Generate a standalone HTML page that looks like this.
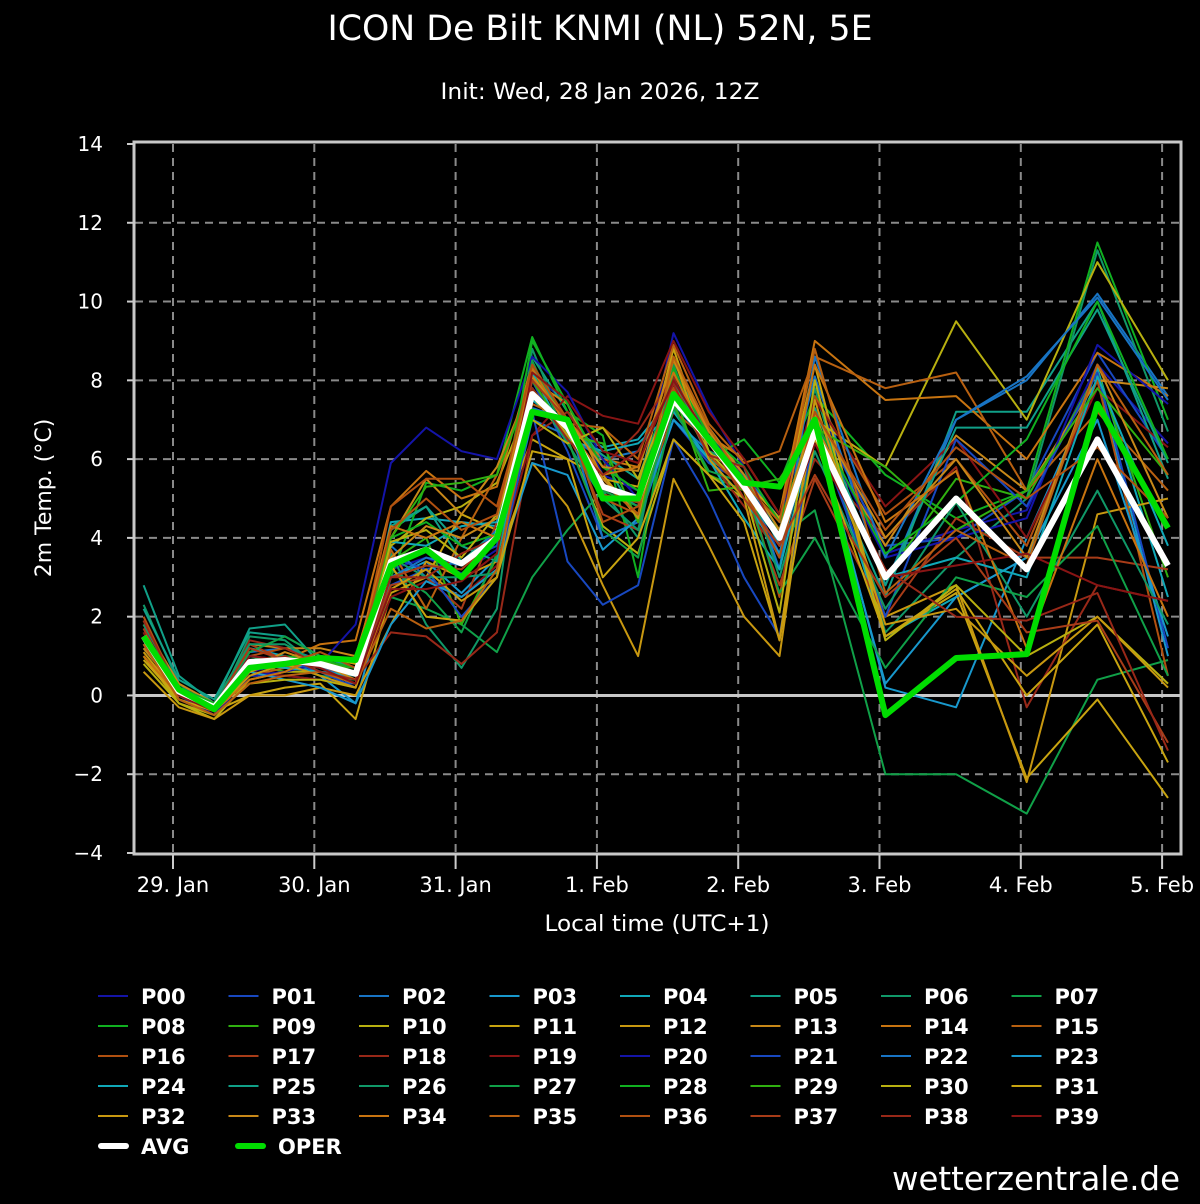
<!DOCTYPE html>
<html><head><meta charset="utf-8"><style>
body{margin:0;background:#000;width:1200px;height:1200px;overflow:hidden;font-family:"DejaVu Sans","Liberation Sans",sans-serif;}
svg text{fill:#fff;font-family:"DejaVu Sans","Liberation Sans",sans-serif;}
</style></head><body>
<svg id="chart" width="1200" height="1200" xmlns="http://www.w3.org/2000/svg">
<rect x="0" y="0" width="1200" height="1200" fill="#000"/>
<text x="600" y="40" font-size="34.5" text-anchor="middle" textLength="545" lengthAdjust="spacingAndGlyphs">ICON De Bilt KNMI (NL) 52N, 5E</text>
<text x="600" y="99" font-size="22" text-anchor="middle" textLength="319" lengthAdjust="spacingAndGlyphs">Init: Wed, 28 Jan 2026, 12Z</text>
<text transform="translate(51,498) rotate(-90)" font-size="22" text-anchor="middle">2m Temp. (°C)</text>
<text x="657" y="931" font-size="22" text-anchor="middle" textLength="225" lengthAdjust="spacingAndGlyphs">Local time (UTC+1)</text>
<text x="1180" y="1190" font-size="33" text-anchor="end" textLength="288" lengthAdjust="spacingAndGlyphs">wetterzentrale.de</text>
<g id="grid"></g>
<g id="series"></g>
<g id="axes"></g>
<g id="legend"></g>
</svg>
<script>
const yTicks=[-4,-2,0,2,4,6,8,10,12,14];
const xTickLabels=['29. Jan','30. Jan','31. Jan','1. Feb','2. Feb','3. Feb','4. Feb','5. Feb'];
const hours=[0,6,12,18,24,30,36,42,48,54,60,66,72,78,84,90,96,102,108,114,126,138,150,162,174];
const avg=[1.5,0.1,-0.3,0.85,0.9,0.8,0.55,3.4,3.7,3.35,4.0,7.65,6.8,5.3,5.0,7.5,6.5,5.3,4.0,6.7,3.0,5.0,3.2,6.5,3.3];
const oper=[1.5,0.15,-0.35,0.7,0.8,0.95,0.9,3.3,3.7,3.0,4.0,7.2,7.0,5.0,5.0,7.65,6.5,5.4,5.3,7.0,-0.5,0.95,1.05,7.4,4.25];
const members=[
[1.6,0.0,-0.4,0.6,0.8,0.6,0.4,3.2,3.5,3.1,3.7,8.2,7.4,5.6,5.2,9.2,7.3,5.8,4.4,7.6,3.6,4.2,4.7,8.4,6.4],
[1.4,-0.1,-0.5,0.5,0.5,0.4,0.3,2.8,3.2,3.4,3.8,8.0,6.2,4.0,4.4,7.0,5.9,5.4,3.6,7.2,3.8,4.0,5.2,8.7,6.0],
[1.3,0.0,-0.3,1.1,1.2,0.9,0.6,3.8,3.0,2.5,3.2,7.0,6.6,6.0,6.2,7.8,6.8,5.6,4.5,8.1,2.8,7.0,8.0,10.2,7.6],
[1.2,0.1,-0.3,0.9,0.9,0.5,-0.2,3.0,3.4,2.6,3.5,7.2,6.9,5.3,4.8,7.4,6.4,5.2,3.5,7.0,0.2,-0.3,4.0,8.0,1.0],
[1.5,0.2,-0.2,1.2,1.0,0.6,0.3,4.4,4.5,4.4,4.3,7.5,6.8,6.3,6.5,7.6,6.6,5.6,3.8,7.2,1.5,2.5,3.5,8.3,2.5],
[2.8,0.5,-0.2,1.7,1.8,0.8,0.6,4.2,4.8,3.4,4.2,8.6,7.2,6.0,4.5,8.0,6.0,5.4,4.0,6.6,2.5,7.2,7.2,10.0,5.5],
[2.3,0.3,-0.4,1.5,1.4,0.7,0.5,3.6,1.8,0.7,2.2,8.8,6.6,5.2,4.0,8.2,6.8,5.5,3.2,7.8,1.6,3.5,5.0,11.3,6.7],
[1.9,0.0,-0.5,1.0,0.8,0.5,0.4,2.5,2.2,1.8,1.1,3.0,4.2,5.2,4.8,8.4,6.0,5.0,4.0,4.7,-2.0,-2.0,-3.0,0.4,0.9],
[1.5,0.1,-0.3,0.7,0.9,0.7,0.5,3.0,5.4,5.2,5.6,9.1,7.2,6.6,3.0,8.3,6.0,6.5,5.4,7.6,5.6,4.5,5.2,11.5,7.0],
[1.3,0.2,-0.3,0.8,0.6,0.8,0.7,3.4,4.0,1.8,3.5,8.2,7.0,5.8,5.2,7.4,5.6,5.2,4.5,6.5,3.0,5.5,5.0,8.2,3.0],
[1.0,-0.2,-0.6,0.4,0.6,0.6,0.3,3.8,4.5,4.8,5.4,7.6,6.5,4.3,3.6,6.5,5.6,5.0,4.2,7.0,5.8,9.5,7.0,11.0,8.0],
[0.9,-0.1,-0.4,0.0,0.2,0.3,-0.6,2.6,3.0,4.6,4.2,6.5,6.0,5.5,5.3,8.8,6.2,5.5,4.5,8.4,1.5,2.6,-2.1,-0.1,-2.6],
[0.6,-0.3,-0.6,0.0,0.0,0.2,0.0,1.8,3.4,3.0,3.4,5.9,4.8,2.8,1.0,5.5,3.8,2.0,1.0,7.2,2.0,2.8,-2.2,4.6,5.0],
[1.8,0.3,-0.2,1.3,1.2,1.2,1.0,4.0,5.5,4.6,5.8,8.0,7.4,5.5,4.6,7.8,6.8,5.6,4.0,6.8,3.8,6.6,5.2,8.0,7.8],
[1.3,0.2,-0.3,0.8,0.9,1.3,1.4,4.8,5.7,5.0,5.3,8.4,7.0,6.0,5.8,8.5,6.6,6.0,4.6,9.0,7.5,7.6,6.0,8.7,7.6],
[1.5,0.0,-0.4,0.5,0.7,0.9,0.7,3.7,2.2,4.0,5.6,8.1,6.9,6.8,6.0,8.9,6.9,5.9,6.2,8.6,7.8,8.2,5.2,7.2,5.2],
[2.0,0.1,-0.3,1.0,1.2,0.8,0.6,4.8,5.5,5.5,4.8,8.0,6.6,5.0,4.6,7.2,6.5,5.6,2.5,7.6,4.6,6.0,3.8,8.0,0.5],
[1.8,0.2,-0.4,1.3,0.9,0.7,0.5,2.8,3.0,2.2,4.4,8.3,6.8,4.6,4.2,8.0,6.4,5.2,2.8,5.5,2.0,4.5,3.5,3.5,3.2],
[1.7,0.0,-0.5,1.4,1.2,0.8,0.4,1.6,1.5,0.8,1.6,6.6,7.2,5.8,6.7,8.1,6.0,4.8,3.6,6.0,4.0,5.8,-0.3,2.8,2.4],
[1.6,-0.1,-0.4,0.6,0.5,0.4,0.2,2.5,2.9,2.5,3.3,6.6,7.6,7.1,6.9,9.0,7.2,6.0,4.6,7.5,4.8,6.5,4.0,7.8,6.3],
[1.7,0.0,-0.5,0.5,0.6,0.8,1.8,5.9,6.8,6.2,6.0,8.6,7.7,6.0,5.0,8.0,6.6,5.6,4.0,7.0,3.5,4.0,4.5,8.9,7.4],
[1.4,0.2,-0.2,1.0,0.9,0.6,0.2,3.5,3.2,2.0,3.0,7.2,3.4,2.3,2.8,6.5,5.0,3.0,1.5,6.8,2.0,6.5,4.8,8.2,1.2],
[1.5,0.0,-0.3,0.9,1.0,0.7,0.4,3.0,3.5,3.3,4.2,7.3,7.0,4.0,4.4,7.0,6.2,5.8,3.2,8.6,3.5,7.0,8.1,10.1,7.5],
[1.4,0.1,-0.4,0.6,0.4,0.2,-0.2,1.8,2.9,2.5,3.2,5.9,5.6,3.7,4.5,7.0,6.0,5.0,3.6,6.8,0.3,2.5,3.5,7.0,1.5],
[1.3,0.0,-0.3,0.8,0.7,0.6,0.5,3.9,3.8,4.3,4.4,8.2,6.5,6.2,6.4,7.2,6.0,4.5,3.2,6.8,3.0,3.5,3.0,8.1,3.8],
[2.2,0.4,-0.1,1.6,1.5,1.0,0.7,4.3,4.8,3.8,3.4,8.4,6.8,6.1,5.5,8.0,6.4,5.5,4.2,7.3,2.8,6.8,6.8,9.8,5.9],
[1.8,0.2,-0.2,1.3,1.3,0.8,0.6,3.5,3.0,3.0,3.1,7.8,6.4,5.0,4.2,7.6,6.2,5.8,3.0,6.2,2.2,4.9,2.0,5.2,1.8],
[1.6,0.1,-0.3,1.1,1.5,1.0,0.5,3.2,2.6,1.6,3.6,8.5,6.5,4.2,3.5,7.3,5.7,5.4,2.6,4.0,0.7,3.0,2.5,4.3,0.5],
[1.5,0.2,-0.2,0.9,1.0,0.9,0.7,4.0,4.4,3.8,4.1,9.0,7.4,5.8,5.2,8.2,6.6,5.8,4.4,7.0,3.6,4.9,6.5,10.0,6.0],
[1.4,0.0,-0.3,0.7,0.8,0.9,0.6,4.0,5.3,5.4,5.6,8.0,6.6,6.4,4.4,7.7,5.2,5.3,5.5,6.8,5.8,4.2,5.2,7.8,5.6],
[0.8,-0.2,-0.5,0.3,0.4,0.4,0.2,3.9,4.2,3.5,4.6,7.0,6.4,6.8,5.5,7.8,6.2,5.2,2.1,8.0,1.4,2.8,1.0,2.0,0.3],
[1.0,-0.1,-0.4,0.6,0.9,1.0,0.8,3.3,2.0,1.9,3.0,6.2,6.0,3.0,4.0,6.5,5.6,4.4,1.4,6.5,1.5,2.7,0.0,1.8,-1.7],
[1.1,0.0,-0.4,0.5,0.8,0.5,0.2,2.7,3.2,2.4,3.0,7.8,6.6,5.6,4.5,8.6,6.0,5.0,1.4,7.5,1.8,2.2,0.5,2.0,0.2],
[1.2,0.1,-0.3,0.7,1.1,0.8,0.4,3.5,4.3,4.0,4.5,8.1,7.0,5.8,5.7,8.6,6.7,5.6,4.2,7.2,4.0,6.0,3.5,8.4,4.5],
[1.0,0.0,-0.4,0.4,0.6,1.0,0.9,4.3,4.0,4.4,4.0,8.3,6.8,5.6,5.8,8.2,6.4,5.4,4.0,8.4,4.4,5.7,1.2,6.0,2.0],
[1.3,-0.1,-0.5,0.3,0.5,0.6,0.3,2.2,1.7,1.9,3.2,7.4,7.0,5.4,4.6,8.6,6.8,5.4,4.4,8.8,2.6,4.2,3.3,8.4,5.6],
[1.9,0.1,-0.4,0.9,0.8,1.1,0.7,4.2,5.0,4.2,4.6,8.4,7.0,4.4,4.8,7.8,6.1,5.2,3.5,7.2,4.2,6.3,5.0,6.3,4.5],
[1.7,0.0,-0.3,1.2,0.9,0.8,0.5,3.0,3.3,3.2,4.0,8.0,7.0,5.1,4.9,8.0,6.5,5.0,3.8,5.6,2.5,4.0,1.6,1.9,-1.2],
[1.9,0.1,-0.4,0.8,1.0,0.6,0.4,3.0,3.0,3.6,4.0,7.8,6.5,5.6,6.2,7.9,6.1,5.8,3.9,6.6,3.2,2.0,1.9,2.6,-1.4],
[1.6,0.0,-0.4,1.0,0.9,0.7,0.3,2.7,2.7,2.9,3.6,8.2,7.5,6.2,5.9,8.0,6.5,5.3,4.0,6.4,3.0,3.3,3.6,2.8,2.4]
];
const palette=['#1414a8','#1848c0','#1874c4','#1898cc','#10a8b8','#10a088','#109868','#10a048','#10b020','#30b010','#b8b010','#c8a410','#c89810','#c88818','#c87410','#b86010','#b05010','#a83c18','#982818','#881414'];

const NS='http://www.w3.org/2000/svg';
const L=135,R=1180,T=144,B=853,VMIN=-4,VMAX=14;
const DAY=141.3, X29=173;
function xOfHour(h){return X29-29.4+h*DAY/24;}
function yOf(v){return T+(VMAX-v)*(B-T)/(VMAX-VMIN);}
function mk(tag,attrs,parent){const e=document.createElementNS(NS,tag);for(const k in attrs)e.setAttribute(k,attrs[k]);parent.appendChild(e);return e;}
const grid=document.getElementById('grid'),axes=document.getElementById('axes'),series=document.getElementById('series'),legend=document.getElementById('legend');

yTicks.forEach(v=>{
  const y=yOf(v);
  if(v!==VMIN&&v!==VMAX){
    const g=mk('line',{x1:L,x2:R,y1:y,y2:y,stroke:'#8a8a8a','stroke-width':2,'stroke-dasharray':'8,6'},grid);
    
    
  }
  const tk=mk('line',{x1:L-8,x2:L,y1:y,y2:y,stroke:'#ccc','stroke-width':2},axes);
  
  
  const t=mk('text',{x:103,y:y+7,'font-size':20,'text-anchor':'end'},axes);
  t.textContent=(v<0?'\u2212'+Math.abs(v):String(v));
  
  
});
xTickLabels.forEach((lab,i)=>{
  const x=X29+i*DAY;
  const g=mk('line',{x1:x,x2:x,y1:T,y2:B,stroke:'#8a8a8a','stroke-width':2,'stroke-dasharray':'8,6'},grid);
  
  
  const tk=mk('line',{x1:x,x2:x,y1:B,y2:B+16,stroke:'#ccc','stroke-width':2},axes);
  
  
  const t=mk('text',{x:x,y:892,'font-size':21,'text-anchor':'middle'},axes);
  t.textContent=lab;
  
  
});
const zl=mk('line',{x1:L,x2:R,y1:yOf(0),y2:yOf(0),stroke:'#c8c8c8','stroke-width':3},grid);



function pts(arr){return arr.map((v,i)=>xOfHour(hours[i]).toFixed(1)+','+yOf(v).toFixed(1)).join(' ');}
members.forEach((m,i)=>{
  const p=mk('polyline',{points:pts(m),fill:'none',stroke:palette[i%20],'stroke-width':2,'stroke-linejoin':'round'},series);
  
  
});
const pa=mk('polyline',{points:pts(avg),fill:'none',stroke:'#fff','stroke-width':6,'stroke-linejoin':'round'},series);


const po=mk('polyline',{points:pts(oper),fill:'none',stroke:'#00dd00','stroke-width':6,'stroke-linejoin':'round'},series);



const fr=mk('rect',{x:L-1,y:T-2,width:R-L+2,height:B-T+3,fill:'none',stroke:'#c8c8c8','stroke-width':3},axes);



for(let i=0;i<40;i++){
  const col=i%8,row=Math.floor(i/8);
  const x=98+col*130.5,y=996+row*30;
  const g=mk('g',{},legend);
  
  
  mk('line',{x1:x,x2:x+30,y1:y,y2:y,stroke:palette[i%20],'stroke-width':2},g);
  const t=mk('text',{x:x+43,y:y+8,'font-size':21,'font-weight':'bold'},g);
  t.textContent='P'+String(i).padStart(2,'0');
}
[['AVG','#fff',98],['OPER','#00dd00',235]].forEach(([n,c,x])=>{
  const y=1146;
  const g=mk('g',{},legend);
  
  
  mk('line',{x1:x+3,x2:x+28,y1:y,y2:y,stroke:c,'stroke-width':6,'stroke-linecap':'round'},g);
  const t=mk('text',{x:x+43,y:y+8,'font-size':21,'font-weight':'bold'},g);
  t.textContent=n;
});
</script>
</body></html>
